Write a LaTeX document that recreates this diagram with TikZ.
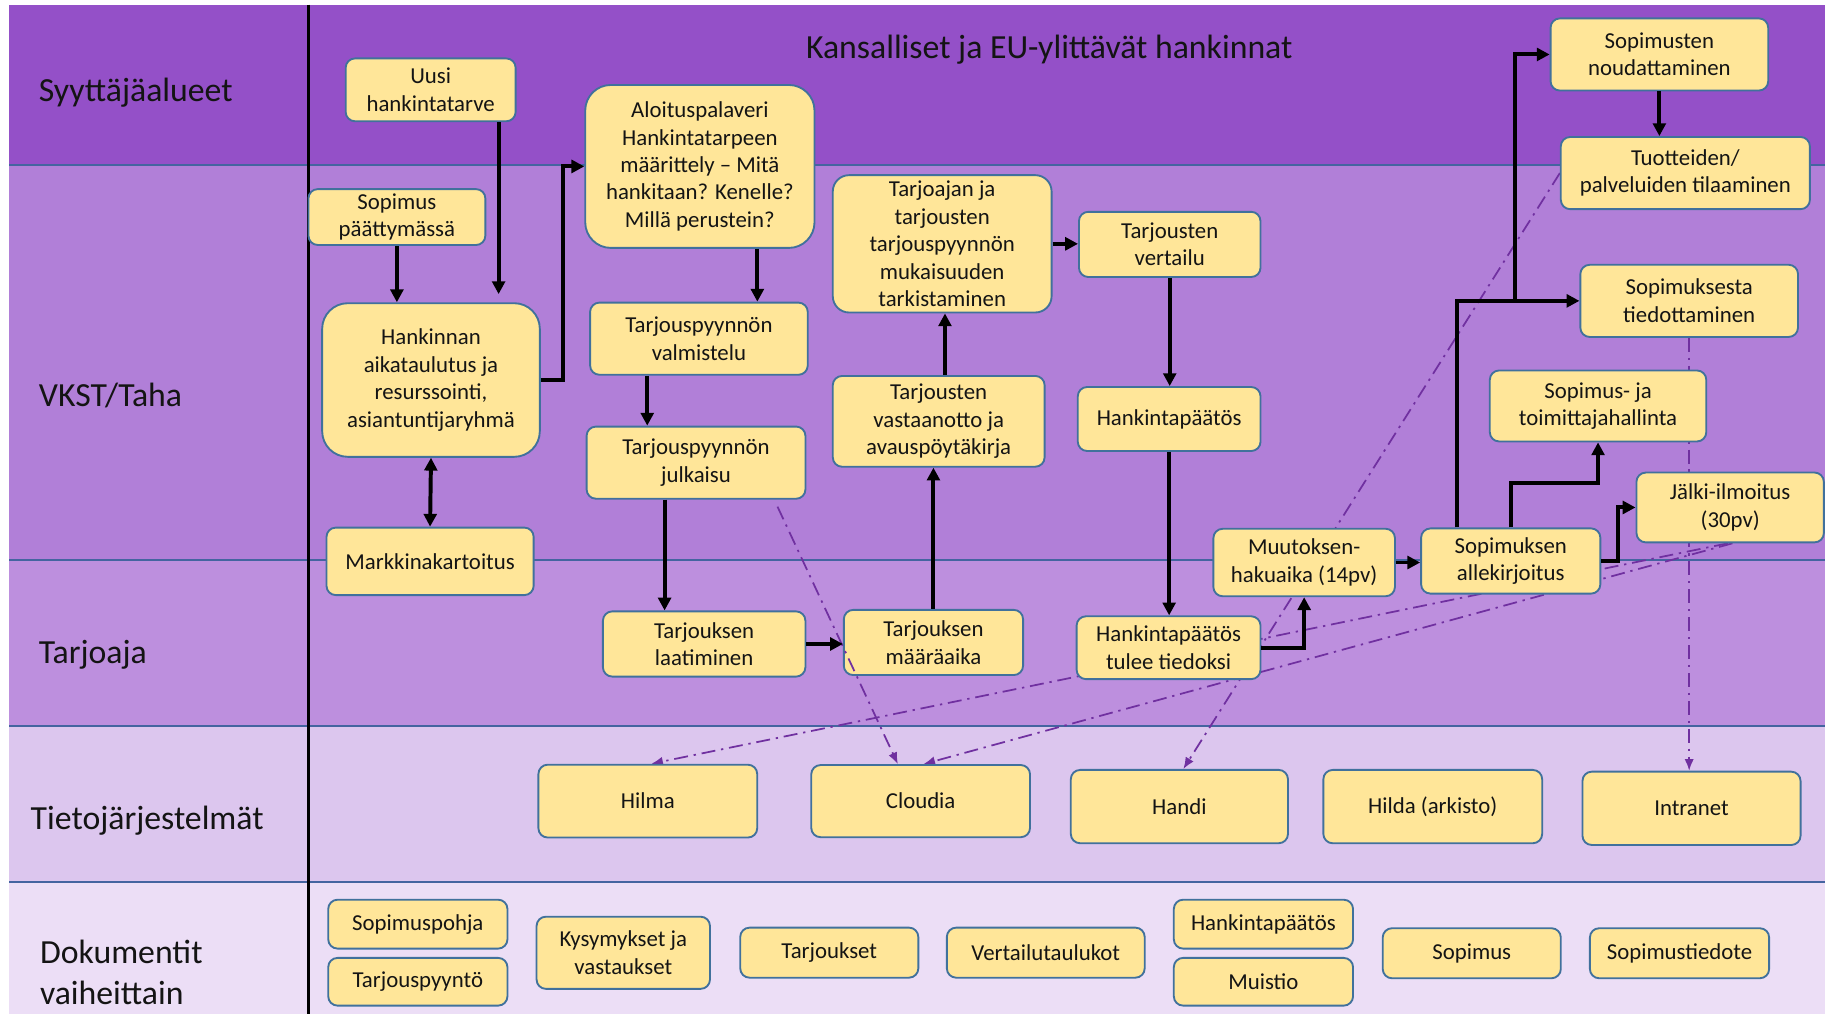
\documentclass[tikz,border=0pt]{standalone}
\usepackage{fontspec}
\setmainfont{Carlito}
\usetikzlibrary{arrows.meta,calc}
\pgfdeclarelayer{lanes}
\pgfdeclarelayer{flows}
\pgfsetlayers{lanes,flows,main}
\definecolor{laneA}{RGB}{148,80,200}
\definecolor{laneB}{RGB}{177,127,216}
\definecolor{laneC}{RGB}{189,143,222}
\definecolor{laneD}{RGB}{220,198,238}
\definecolor{laneE}{RGB}{236,222,246}
\definecolor{laneline}{RGB}{68,100,160}
\definecolor{boxfill}{RGB}{255,230,153}
\definecolor{boxline}{RGB}{65,113,156}
\definecolor{ddcol}{RGB}{112,48,160}
\definecolor{txt}{RGB}{20,20,20}
\begin{document}
\begin{tikzpicture}[x=0.5pt,y=-0.5pt,
  box/.style={draw=boxline,fill=boxfill,line width=0.8pt,rounded corners=4pt,
    align=center,inner sep=0pt,text=txt,font=\fontsize{9.8}{11.8}\selectfont},
  lanelabel/.style={anchor=west,inner sep=0pt,text=txt,align=left,
    font=\fontsize{14.5}{17.6}\selectfont},
  arr/.style={line width=1.7pt,-{Triangle[length=5.5pt,width=5.5pt]}},
  dblarr/.style={line width=1.7pt,{Triangle[length=5.5pt,width=5.5pt]}-{Triangle[length=5.5pt,width=5.5pt]}},
  dd/.style={ddcol,line width=0.75pt,dash pattern=on 6pt off 2.5pt on 1pt off 2.5pt,
    -{Latex[length=5pt,width=4pt]}},
  lanesep/.style={laneline,line width=0.7pt}]
\useasboundingbox (0,0) rectangle (1568,871);
% lanes
\begin{pgfonlayer}{lanes}
\fill[laneA] (8,4) rectangle (1568,142);
\fill[laneB] (8,142) rectangle (1568,481);
\fill[laneC] (8,481) rectangle (1568,624);
\fill[laneD] (8,624) rectangle (1568,758);
\fill[laneE] (8,758) rectangle (1568,871);
\draw[lanesep] (8,142) -- (1568,142);
\draw[lanesep] (8,481) -- (1568,481);
\draw[lanesep] (8,624) -- (1568,624);
\draw[lanesep] (8,758) -- (1568,758);
\draw[black,line width=1pt] (265,4) -- (265,871);
\end{pgfonlayer}
% lane labels
\node[lanelabel] (l1) at (33,80) {Syyttäjäalueet};
\node[lanelabel] (l2) at (33,340) {VKST/Taha};
\node[lanelabel] (l3) at (33,563) {Tarjoaja};
\node[lanelabel] (l4) at (26,705) {Tietojärjestelmät};
\node[lanelabel] (l5) at (34,835.5) {Dokumentit\\vaiheittain};
\node[lanelabel,anchor=center] (title) at (901.5,42.5) {Kansalliset ja EU-ylittävät hankinnat};

% boxes
\path
 node[box,minimum width=73pt,minimum height=27pt] (uusi) at (370,77.2) {Uusi\\hankintatarve}
 node[box,minimum width=76pt,minimum height=24pt] (sopp) at (341,186.5) {Sopimus\\päättymässä}
 node[box,rounded corners=11pt,minimum width=98.5pt,minimum height=70pt] (aloitus) at (601.3,143) {Aloituspalaveri\\Hankintatarpeen\\määrittely – Mitä\\hankitaan? Kenelle?\\Millä perustein?}
 node[box,rounded corners=11pt,minimum width=93.5pt,minimum height=66pt] (hank) at (370.3,326.5) {Hankinnan\\aikataulutus ja\\resurssointi,\\asiantuntijaryhmä}
 node[box,minimum width=89pt,minimum height=29pt] (markk) at (369.5,482.3) {Markkinakartoitus}
 node[box,minimum width=93.5pt,minimum height=31pt] (valm) at (600.5,291) {Tarjouspyynnön\\valmistelu}
 node[box,minimum width=94pt,minimum height=31pt] (julk) at (598,397.5) {Tarjouspyynnön\\julkaisu}
 node[box,rounded corners=7pt,minimum width=94pt,minimum height=59pt] (tarjoajan) at (809.5,209.5) {Tarjoajan ja\\tarjousten\\tarjouspyynnön\\mukaisuuden\\tarkistaminen}
 node[box,minimum width=91pt,minimum height=39pt] (vast) at (806.5,362) {Tarjousten\\vastaanotto ja\\avauspöytäkirja}
 node[box,minimum width=87pt,minimum height=28pt] (laat) at (605,553.3) {Tarjouksen\\laatiminen}
 node[box,minimum width=77pt,minimum height=28pt] (maar) at (802,552) {Tarjouksen\\määräaika}
 node[box,minimum width=78pt,minimum height=28pt] (vert) at (1005,210) {Tarjousten\\vertailu}
 node[box,minimum width=78.5pt,minimum height=27.5pt] (hp) at (1004.5,360) {Hankintapäätös}
 node[box,minimum width=79pt,minimum height=27pt] (hpt) at (1004,556.5) {Hankintapäätös\\tulee tiedoksi}
 node[box,minimum width=78pt,minimum height=29pt] (muut) at (1120.5,483.3) {Muutoksen-\\hakuaika (14pv)}
 node[box,minimum width=77pt,minimum height=28pt] (allek) at (1298,482) {Sopimuksen\\allekirjoitus}
 node[box,minimum width=80.5pt,minimum height=30pt] (jalki) at (1486.5,436) {Jälki-ilmoitus\\(30pv)}
 node[box,minimum width=93pt,minimum height=30.5pt] (sjt) at (1373,348.8) {Sopimus- ja\\toimittajahallinta}
 node[box,minimum width=93.5pt,minimum height=31pt] (stied) at (1451.3,258.5) {Sopimuksesta\\tiedottaminen}
 node[box,minimum width=107pt,minimum height=31pt] (tuot) at (1448,148.7) {Tuotteiden/\\palveluiden tilaaminen}
 node[box,minimum width=93.5pt,minimum height=31pt] (nouda) at (1425.7,46.8) {Sopimusten\\noudattaminen}
 node[box,minimum width=94pt,minimum height=31.3pt] (hilma) at (556.6,688.3) {Hilma}
 node[box,minimum width=94pt,minimum height=31pt] (cloudia) at (791,688.3) {Cloudia}
 node[box,minimum width=93.3pt,minimum height=31.5pt] (handi) at (1013.3,693) {Handi}
 node[box,minimum width=94pt,minimum height=31.5pt] (hilda) at (1231,693) {Hilda (arkisto)}
 node[box,minimum width=93.7pt,minimum height=31.5pt] (intra) at (1453.3,694.5) {Intranet}
 node[box,minimum width=77pt,minimum height=21pt] (spohja) at (359,794) {Sopimuspohja}
 node[box,minimum width=77pt,minimum height=20.5pt] (tpyynto) at (359,843.5) {Tarjouspyyntö}
 node[box,minimum width=74.5pt,minimum height=31pt] (kys) at (535.5,818.6) {Kysymykset ja\\vastaukset}
 node[box,minimum width=76.5pt,minimum height=21.5pt] (tarjoukset) at (712.5,818.5) {Tarjoukset}
 node[box,minimum width=85pt,minimum height=21.5pt] (vertt) at (898.5,818.5) {Vertailutaulukot}
 node[box,minimum width=77pt,minimum height=21pt] (hpdoc) at (1085.5,794) {Hankintapäätös}
 node[box,minimum width=77pt,minimum height=20.5pt] (muistio) at (1085.5,843.5) {Muistio}
 node[box,minimum width=76.5pt,minimum height=21.5pt] (sopimus) at (1264.5,819) {Sopimus}
 node[box,minimum width=77pt,minimum height=21.5pt] (stiedote) at (1443,819) {Sopimustiedote};

% dash-dot information flows (behind boxes)
\begin{pgfonlayer}{flows}
\draw[dd] (tuot.west) -- ([xshift=1.7pt]handi.north);
\draw[dd] ([xshift=-1pt]jalki.south) -- ([xshift=1.5pt]hilma.north);
\draw[dd] ([xshift=1pt]jalki.south) -- ([xshift=1.2pt]cloudia.north);
\draw[dd] (stied.south) -- (stied.south |- intra.north);
\end{pgfonlayer}
\draw[dd] ([xshift=35pt,yshift=-3pt]julk.south) -- ([xshift=-9.8pt]cloudia.north);

% process flow
\draw[arr] ([xshift=29.2pt]uusi.south) -- ([xshift=29.2pt,yshift=3.5pt]uusi.south |- hank.north);
\draw[arr] (sopp.south) -- (sopp.south |- hank.north);
\draw[arr] (hank.east) -- ++(9.5pt,0) |- (aloitus.west);
\draw[dblarr] (hank.south) -- (markk.north);
\draw[arr] ([xshift=24.7pt]aloitus.south) -- ([xshift=24.7pt]aloitus.south |- valm.north);
\draw[arr] ([xshift=-22.2pt]valm.south) -- ([xshift=-22.2pt]valm.south |- julk.north);
\draw[arr] ([xshift=-13.5pt]julk.south) -- ([xshift=-13.5pt]julk.south |- laat.north);
\draw[arr] (laat.east) -- (laat.east -| maar.west);
\draw[arr] (maar.north) -- (maar.north |- vast.south);
\draw[arr] ([xshift=2.7pt]vast.north) -- ([xshift=2.7pt]vast.north |- tarjoajan.south);
\draw[arr] (tarjoajan.east) -- (tarjoajan.east -| vert.west);
\draw[arr] (vert.south) -- (vert.south |- hp.north);
\draw[arr] (hp.south) -- (hp.south |- hpt.north);
\draw[arr] (hpt.east) -| (muut.south);
\draw[arr] (muut.east) -- (muut.east -| allek.west);
\draw[arr] ([xshift=-23.3pt]allek.north) |- (stied.west);
\draw[arr] ([xshift=-27.6pt]stied.west) |- (nouda.west);
\draw[arr] (allek.north) -- ++(0,19pt) -| (sjt.south);
\draw[arr] (allek.east) -- ++(7pt,0) |- (jalki.west);
\draw[arr] (nouda.south) -- (nouda.south |- tuot.north);
\end{tikzpicture}
\end{document}
